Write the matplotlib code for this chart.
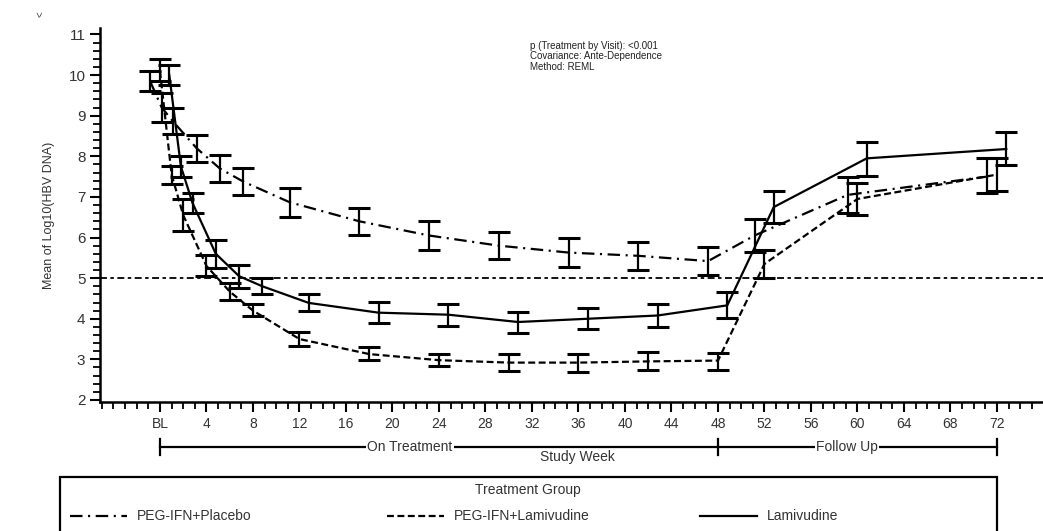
import numpy as np
import matplotlib
matplotlib.use("Agg")
import matplotlib.pyplot as plt
from matplotlib.lines import Line2D
from matplotlib.patches import Rectangle
import matplotlib.transforms as mtransforms

plt.rcParams['font.family'] = ['Liberation Sans', 'DejaVu Sans']
plt.rcParams['lines.scale_dashes'] = False

# nominal visit weeks (BL = 0)
weeks = [0, 1, 2, 4, 6, 8, 12, 18, 24, 30, 36, 42, 48, 52, 60, 72]

# PEG-IFN+Placebo
plc_mean = [9.85, 9.2, 8.85, 8.2, 7.7, 7.38, 6.87, 6.4, 6.05, 5.8, 5.63, 5.55, 5.42, 6.05, 7.05, 7.5]
plc_low  = [9.6, 8.85, 8.55, 7.86, 7.37, 7.05, 6.51, 6.06, 5.69, 5.47, 5.28, 5.2, 5.08, 5.65, 6.6, 7.1]
plc_high = [10.1, 9.55, 9.19, 8.53, 8.03, 7.71, 7.22, 6.73, 6.41, 6.14, 5.99, 5.89, 5.77, 6.45, 7.5, 7.95]

# PEG-IFN+Lamivudine
pl_mean = [10.1, 7.55, 6.55, 5.3, 4.67, 4.2, 3.5, 3.13, 2.98, 2.92, 2.92, 2.95, 2.97, 5.35, 6.95, 7.55]
pl_low  = [9.85, 7.32, 6.15, 5.05, 4.46, 4.07, 3.33, 2.98, 2.84, 2.72, 2.7, 2.74, 2.74, 5.0, 6.55, 7.15]
pl_high = [10.4, 7.77, 6.95, 5.57, 4.88, 4.36, 3.67, 3.31, 3.13, 3.13, 3.13, 3.18, 3.15, 5.7, 7.35, 7.95]

# Lamivudine
lam_mean = [10.0, 7.75, 6.85, 5.6, 5.05, 4.8, 4.39, 4.15, 4.1, 3.92, 4.0, 4.08, 4.33, 6.75, 7.95, 8.18]
lam_low  = [9.75, 7.5, 6.6, 5.25, 4.75, 4.6, 4.2, 3.9, 3.82, 3.65, 3.75, 3.8, 4.02, 6.35, 7.52, 7.78]
lam_high = [10.25, 8.0, 7.1, 5.95, 5.32, 5.0, 4.6, 4.41, 4.36, 4.17, 4.27, 4.37, 4.66, 7.15, 8.35, 8.6]

tick_weeks = list(range(0, 73, 4))
tick_labels = ['BL'] + [str(w) for w in tick_weeks[1:]]

fig = plt.figure(figsize=(10.43, 5.31), dpi=100)
ax = fig.add_axes([100/1043, 1 - 402/531, 943/1043, 374/531])

series = [
    ('PEG-IFN+Placebo', plc_mean, plc_low, plc_high, -0.85, (0, (9, 4, 1.5, 4))),
    ('PEG-IFN+Lamivudine', pl_mean, pl_low, pl_high, 0.0, (0, (5, 2.5))),
    ('Lamivudine', lam_mean, lam_low, lam_high, 0.8, 'solid'),
]

for name, m, lo, hi, off, ls in series:
    x = np.array(weeks) + off
    m = np.array(m)
    yerr = [m - np.array(lo), np.array(hi) - m]
    ax.errorbar(x, m, yerr=yerr, fmt='none', ecolor='black', elinewidth=1.6,
                capsize=8, capthick=2.2, zorder=3)
    ax.plot(x, m, color='black', lw=1.6, linestyle=ls, zorder=2)

ax.axhline(5, color='black', lw=1.3, linestyle=(0, (5, 2.5, 2.5, 2.5)), zorder=1)

ax.set_xlim(-5.16, 75.96)
ax.set_ylim(1.95, 11.16)
ax.set_xticks(tick_weeks)
ax.set_xticklabels(tick_labels)
ax.set_xticks(range(-5, 76), minor=True)
ax.set_yticks(range(2, 12))
ax.set_yticks(np.arange(2, 11.01, 0.2), minor=True)
for s in ['top', 'right']:
    ax.spines[s].set_visible(False)
for s in ['left', 'bottom']:
    ax.spines[s].set_linewidth(1.8)
ax.tick_params(axis='both', which='major', length=7, width=1.5, labelsize=10, colors='black', labelcolor='#333333')
ax.tick_params(axis='y', labelsize=11)
ax.tick_params(axis='both', which='minor', length=5, width=1.3)
ax.tick_params(axis='x', pad=4)
ax.set_ylabel('Mean of Log10(HBV DNA)', fontsize=9, color='#333333', labelpad=10)

# treatment-period bracket below the axis
bt = mtransforms.blended_transform_factory(ax.transData, fig.transFigure)
yb = 1 - 447/531
for a, b in [(0, 48), (48, 72)]:
    fig.add_artist(Line2D([a, b], [yb, yb], transform=bt, color='black', lw=1.6))
for w in [0, 48, 72]:
    fig.add_artist(Line2D([w, w], [yb - 8/531, yb + 8/531], transform=bt, color='black', lw=1.6))
fig.text(21.5, yb, 'On Treatment', transform=bt, ha='center', va='center', fontsize=10,
         color='#333333', bbox=dict(facecolor='white', edgecolor='none', pad=1))
fig.text(59.1, yb, 'Follow Up', transform=bt, ha='center', va='center', fontsize=10,
         color='#333333', bbox=dict(facecolor='white', edgecolor='none', pad=1))
fig.text(35.9, 1 - 457/531, 'Study Week', transform=bt, ha='center', va='center', fontsize=10,
         color='#333333')

# model note
fig.text(530/1043, 1 - 41/531, 'p (Treatment by Visit): <0.001\nCovariance: Ante-Dependence\nMethod: REML',
         ha='left', va='top', fontsize=7, linespacing=1.05, color='#222222')
fig.text(40/1043, 1 - 14/531, '<', rotation=90, ha='center', va='center', fontsize=7, color='#444444')

# legend box (cut at figure bottom as in the source)
fig.add_artist(Rectangle((60/1043, -0.05), 937/1043, 0.05 + (1 - 477/531), transform=fig.transFigure,
                         fill=False, edgecolor='black', lw=1.6))
fig.text(528/1043, 1 - 490/531, 'Treatment Group', ha='center', va='center', fontsize=10, color='#333333')
ly = 1 - 516/531
for (name, m, lo, hi, off, ls), x0 in zip(series, [70, 387, 700]):
    fig.add_artist(Line2D([x0/1043, (x0 + 57)/1043], [ly, ly], transform=fig.transFigure,
                          color='black', lw=1.6, linestyle=ls))
    fig.text((x0 + 67)/1043, ly, name, ha='left', va='center', fontsize=10, color='#333333')

fig.savefig('out.png', dpi=100)
